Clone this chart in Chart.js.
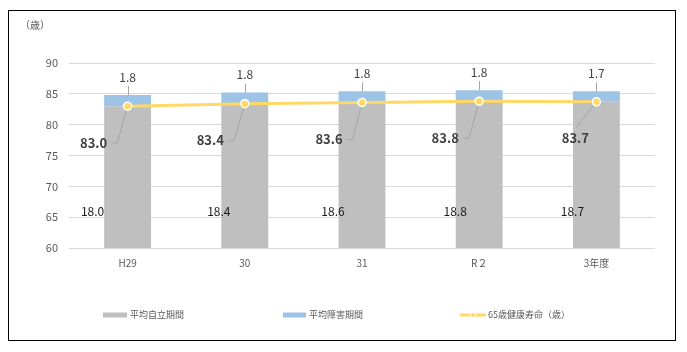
<!DOCTYPE html>
<html>
<head>
<meta charset="utf-8">
<script src="https://cdn.jsdelivr.net/npm/chart.js@4.4.1/dist/chart.umd.min.js"></script>
<style>
html,body{margin:0;padding:0;background:#fff;}
canvas{display:block;}
</style>
</head>
<body>
<canvas id="c" width="687" height="352"></canvas>
<script>
// ---- data ----
const categories = ['H29', '30', '31', 'R２', '3年度'];
const independentYears = [18.0, 18.4, 18.6, 18.8, 18.7];      // 平均自立期間 (years after 65)
const healthyLifeExpectancy = [83.0, 83.4, 83.6, 83.8, 83.7]; // 65歳健康寿命（歳）
const disabilityPeriod = [1.8, 1.8, 1.8, 1.8, 1.7];           // 平均障害期間
const yTicks = [60, 65, 70, 75, 80, 85, 90];
const seriesNames = ['平均自立期間', '平均障害期間', '65歳健康寿命（歳）'];
const unitLabel = '（歳）';

// label placement tweaks (pixel offsets, not data)
const grayLabelDx = [-35, -26, -29, -24, -24];
const lineLabelDx = [-34, -34.5, -33, -34, -21];
const lineLeaderMode = ['side', 'side', 'side', 'side', 'top'];

const FONT = '"Noto Sans CJK JP", "Noto Sans", sans-serif';
const GRAY = '#BFBFBF', BLUE = '#9DC3E6', YELLOW = '#FFD966';

const decoPlugin = {
  id: 'deco',
  beforeDraw(chart) {
    const ctx = chart.ctx;
    ctx.save();
    ctx.fillStyle = '#fff';
    ctx.fillRect(0, 0, chart.width, chart.height);
    ctx.strokeStyle = '#000';
    ctx.lineWidth = 1;
    ctx.strokeRect(8.5, 10.5, 667, 330);
    ctx.fillStyle = '#595959';
    ctx.font = '10px ' + FONT;
    ctx.textAlign = 'left';
    ctx.textBaseline = 'middle';
    ctx.fillText(unitLabel, 20, 25);
    // legend
    const ly = 315;
    ctx.font = '9px ' + FONT;
    ctx.fillStyle = GRAY;
    ctx.fillRect(103, ly - 2.5, 24, 5);
    ctx.fillStyle = BLUE;
    ctx.fillRect(283, ly - 2.5, 23, 5);
    ctx.strokeStyle = YELLOW;
    ctx.lineWidth = 3;
    ctx.beginPath(); ctx.moveTo(460, ly); ctx.lineTo(486, ly); ctx.stroke();
    ctx.fillStyle = YELLOW; ctx.strokeStyle = '#fff'; ctx.lineWidth = 1;
    ctx.beginPath(); ctx.arc(473, ly, 2.5, 0, Math.PI * 2); ctx.fill(); ctx.stroke();
    ctx.fillStyle = '#595959';
    ctx.fillText(seriesNames[0], 130, ly);
    ctx.fillText(seriesNames[1], 309, ly);
    ctx.fillText(seriesNames[2], 488, ly);
    ctx.restore();
  },
  afterDatasetsDraw(chart) {
    const ctx = chart.ctx;
    const area = chart.chartArea;
    const grayMeta = chart.getDatasetMeta(0);
    const blueMeta = chart.getDatasetMeta(1);
    const lineMeta = chart.getDatasetMeta(2);
    ctx.save();
    ctx.textAlign = 'center';
    ctx.textBaseline = 'middle';
    // gray labels
    ctx.font = '12px ' + FONT;
    ctx.fillStyle = '#1a1a1a';
    grayMeta.data.forEach((bar, i) => {
      ctx.fillText(independentYears[i].toFixed(1), bar.x + grayLabelDx[i], area.bottom - 37);
    });
    // blue labels
    ctx.font = '12px ' + FONT;
    blueMeta.data.forEach((bar, i) => {
      const top = bar.y;
      ctx.strokeStyle = '#A6A6A6';
      ctx.lineWidth = 1;
      ctx.beginPath();
      ctx.moveTo(Math.round(bar.x) + 0.5, top - 9);
      ctx.lineTo(Math.round(bar.x) + 0.5, top);
      ctx.stroke();
      ctx.fillStyle = '#404040';
      ctx.fillText(disabilityPeriod[i].toFixed(1), bar.x, top - 18);
    });
    // line labels
    ctx.font = 'bold 13px ' + FONT;
    lineMeta.data.forEach((pt, i) => {
      const lx = pt.x + lineLabelDx[i];
      const ly = pt.y + 36.5;
      const txt = healthyLifeExpectancy[i].toFixed(1);
      const w = ctx.measureText(txt).width;
      let sx, sy;
      ctx.strokeStyle = '#A6A6A6';
      ctx.lineWidth = 1;
      ctx.beginPath();
      if (lineLeaderMode[i] === 'side') {
        ctx.moveTo(lx + w / 2 + 5, ly + 0.5);
        sx = lx + w / 2 + 10; sy = ly + 0.5;
        ctx.lineTo(sx, sy);
      } else {
        sx = lx + 1; sy = ly - 11;
        ctx.moveTo(sx, sy);
      }
      const dx = pt.x - sx, dy = pt.y - sy, d = Math.hypot(dx, dy);
      ctx.lineTo(pt.x - dx / d * 5, pt.y - dy / d * 5);
      ctx.stroke();
      ctx.fillStyle = '#404040';
      ctx.fillText(txt, lx, ly);
    });
    ctx.restore();
  }
};

new Chart(document.getElementById('c'), {
  type: 'bar',
  data: {
    labels: categories,
    datasets: [
      { label: seriesNames[0], data: healthyLifeExpectancy, backgroundColor: GRAY,
        stack: 'bars', order: 1, categoryPercentage: 0.4, barPercentage: 1 },
      { label: seriesNames[1], data: disabilityPeriod, backgroundColor: BLUE,
        stack: 'bars', order: 1, categoryPercentage: 0.4, barPercentage: 1 },
      { type: 'line', label: seriesNames[2], data: healthyLifeExpectancy, stack: 'line', order: 0,
        borderColor: YELLOW, borderWidth: 3, pointRadius: 4, pointBackgroundColor: YELLOW,
        pointBorderColor: '#fff', pointBorderWidth: 1.5, tension: 0 }
    ]
  },
  options: {
    responsive: false,
    animation: false,
    devicePixelRatio: 1,
    layout: { padding: { left: 10, top: 63, right: 32, bottom: 74 } },
    plugins: { legend: { display: false }, tooltip: { enabled: false } },
    scales: {
      x: {
        stacked: true,
        grid: { display: false, drawTicks: false },
        border: { display: false },
        ticks: { color: '#595959', font: { size: 10, family: FONT }, padding: 9 },
        afterFit(s) { s.height = 30; }
      },
      y: {
        stacked: true,
        min: yTicks[0], max: yTicks[yTicks.length - 1],
        afterBuildTicks(s) { s.ticks = yTicks.map(v => ({ value: v })); },
        grid: { color: '#D9D9D9', lineWidth: 1, drawTicks: false },
        border: { display: false },
        ticks: { color: '#595959', font: { size: 11, family: FONT }, padding: 11 },
        afterFit(s) { s.width = 59; }
      }
    }
  },
  plugins: [decoPlugin]
});
</script>
</body>
</html>
